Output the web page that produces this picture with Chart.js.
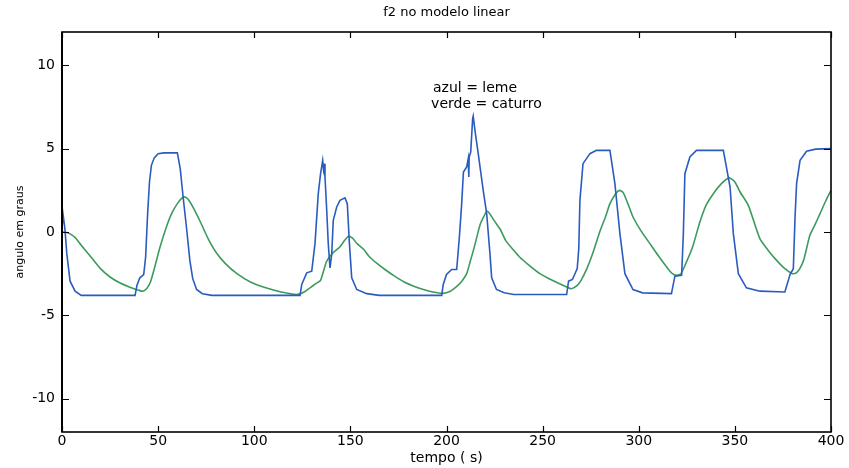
<!DOCTYPE html>
<html>
<head>
<meta charset="utf-8">
<script src="https://cdn.jsdelivr.net/npm/chart.js@4/dist/chart.umd.min.js"></script>
<style>
html,body{margin:0;padding:0;background:#fff;}
#wrap{width:849px;height:468px;position:relative;}
</style>
</head>
<body>
<div id="wrap"><canvas id="c" width="849" height="468"></canvas></div>
<script>
// ---- data ----
const titleText = 'f2 no modelo linear';
const xLabel = 'tempo ( s)';
const yLabel = 'angulo em graus';
const noteLines = ['azul = leme', 'verde = caturro'];
const xTicks = [0, 50, 100, 150, 200, 250, 300, 350, 400];
const yTicks = [-10, -5, 0, 5, 10];

// blue = leme (rudder)
const lemeT = [0, 0.6, 1.5, 2.5, 4.2, 6.8, 10, 38, 39, 40.5, 42.5, 43.5, 44.5, 45.5, 46.5, 48, 50, 53, 60,
  61.5, 63, 65, 66.5, 68, 70, 73, 78, 123.8, 124.7, 127.3, 129.9, 131.6, 133.3, 134.5, 135.6, 136, 136.3,
  136.8, 137.7, 138.5, 139.4, 140.3, 141.1, 142.9, 144.6, 147.2, 148.4, 149.5, 150.7, 153.3, 158.5, 165,
  197.5, 198.3, 200, 202.7, 205.3, 206.7, 207.9, 208.8, 210.5, 211.3, 211.6, 211.8, 212.6, 213.6, 213.9,
  214.8, 216.5, 219.1, 220.9, 222.6, 223.5, 226, 230, 235, 262.5, 263.5, 265.5, 268, 268.8, 269.4, 271,
  274.6, 278, 285, 287.6, 290.2, 292.8, 297, 302, 317, 318.8, 322.3, 323.2, 324, 326.6, 330, 344, 347.5,
  349.2, 351.8, 356, 363, 376, 378.7, 380.4, 381.3, 382.1, 383.9, 387.3, 392, 400];
const lemeY = [0.3, 1.0, 0.2, -1.3, -2.95, -3.55, -3.8, -3.8, -3.2, -2.75, -2.55, -1.5, 1.0, 3.0, 4.0, 4.45, 4.7, 4.75, 4.75,
  3.8, 2.1, 0.0, -1.7, -2.8, -3.45, -3.7, -3.8, -3.8, -3.15, -2.45, -2.35, -0.7, 2.3, 3.5, 4.3, 3.8, 4.1,
  3.3, 1.3, -0.7, -2.15, -1.33, 0.7, 1.5, 1.9, 2.05, 1.7, -0.7, -2.75, -3.45, -3.7, -3.8,
  -3.8, -3.15, -2.55, -2.25, -2.25, -0.3, 1.7, 3.6, 3.9, 4.4, 3.3, 4.5, 4.8, 6.8, 6.95,
  6.1, 4.7, 2.5, 1.1, -1.3, -2.75, -3.45, -3.65, -3.75, -3.75, -2.95, -2.85, -2.2, -1.0, 1.9, 4.1,
  4.7, 4.9, 4.9, 2.9, -0.1, -2.5, -3.45, -3.65, -3.7, -2.65, -2.6, -0.1, 3.5, 4.5, 4.9, 4.9, 2.7,
  -0.1, -2.5, -3.35, -3.55, -3.6, -2.55, -2.2, 0.9, 2.9, 4.3, 4.85, 4.97, 5.0];

// green = caturro (pitch)
const caturroT = [0, 1.5, 4, 7, 10, 14, 20, 25, 30, 35, 40, 42, 44, 46, 48, 51, 54, 57, 60, 62.5, 64, 66, 69,
  72, 76, 80, 85, 91, 98, 106, 114, 122, 126, 129, 132, 134.5, 137.5, 140.5, 144.5, 147, 149, 151, 153.5,
  157, 160, 164, 168, 173, 178, 183, 188, 193, 198, 202, 205.5, 208, 210.5, 212.5, 214, 216, 217.5, 219.5,
  221, 222.5, 225, 228, 231, 235, 238, 243, 248.6, 255, 262.5, 265, 268, 270, 273, 276, 280, 283, 285, 288,
  290, 292, 295, 297, 301, 305.8, 310, 314.5, 317, 319.7, 322, 325, 328, 331.8, 335, 338.8, 343, 347, 350,
  352.7, 357, 363, 368, 371.7, 376, 380, 382, 384, 386, 389, 391.5, 394.3, 397, 400];
const caturroY = [0.0, 0.0, -0.1, -0.35, -0.8, -1.35, -2.2, -2.7, -3.05, -3.3, -3.5, -3.55, -3.4, -3.0, -2.2, -0.9, 0.2, 1.1, 1.7, 2.05, 2.1, 1.9, 1.3,
  0.6, -0.4, -1.2, -1.9, -2.5, -3.0, -3.35, -3.6, -3.75, -3.6, -3.35, -3.1, -2.9, -1.8, -1.3, -0.9, -0.5, -0.25, -0.35, -0.7,
  -1.05, -1.5, -1.9, -2.25, -2.65, -3.0, -3.25, -3.45, -3.6, -3.68, -3.55, -3.25, -2.95, -2.5, -1.7, -1.1, -0.2, 0.45, 0.95,
  1.25, 1.1, 0.65, 0.15, -0.55, -1.1, -1.5, -2.0, -2.5, -2.9, -3.3, -3.4, -3.2, -2.9, -2.2, -1.3, 0.1, 1.0, 1.7, 2.3,
  2.5, 2.35, 1.5, 0.9, 0.1, -0.7, -1.4, -2.1, -2.45, -2.6, -2.5, -1.75, -0.9, 0.6, 1.6, 2.3, 2.9, 3.25, 3.0,
  2.4, 1.6, -0.4, -1.2, -1.7, -2.2, -2.5, -2.45, -2.15, -1.6, -0.2, 0.4, 1.1, 1.8, 2.5];

// ---- chart ----
const FONT = 'DejaVu Sans, Verdana, sans-serif';
const toPts = (t, y) => t.map((v, i) => ({x: v, y: y[i]}));

const framePlugin = {
  id: 'frame',
  afterDatasetsDraw(chart) {
    const {ctx, chartArea: a, scales: {x, y}} = chart;
    ctx.save();
    ctx.strokeStyle = '#000';
    ctx.lineWidth = 1.2;
    ctx.beginPath();
    xTicks.forEach(v => {
      const px = Math.round(x.getPixelForValue(v)) + 0.5;
      ctx.moveTo(px, a.bottom); ctx.lineTo(px, a.bottom - 6);
      ctx.moveTo(px, a.top); ctx.lineTo(px, a.top + 6);
    });
    yTicks.forEach(v => {
      const py = Math.round(y.getPixelForValue(v)) + 0.5;
      ctx.moveTo(a.left, py); ctx.lineTo(a.left + 7, py);
      ctx.moveTo(a.right, py); ctx.lineTo(a.right - 7, py);
    });
    ctx.stroke();
    ctx.lineWidth = 1.6;
    ctx.strokeRect(a.left, a.top, a.right - a.left, a.bottom - a.top);
    ctx.lineWidth = 2;
    ctx.beginPath();
    ctx.moveTo(a.left, a.top); ctx.lineTo(a.left, a.bottom);
    ctx.stroke();
    // annotation text
    ctx.fillStyle = '#000';
    ctx.font = '14px ' + FONT;
    ctx.textBaseline = 'middle';
    ctx.textAlign = 'left';
    ctx.fillText(noteLines[0], x.getPixelForValue(193), y.getPixelForValue(8.6));
    ctx.fillText(noteLines[1], x.getPixelForValue(192), y.getPixelForValue(7.65));
    ctx.restore();
  }
};

new Chart(document.getElementById('c'), {
  type: 'line',
  data: {
    datasets: [
      {label: 'leme', data: toPts(lemeT, lemeY), borderColor: '#2a5cbf', borderWidth: 1.6, pointRadius: 0, tension: 0, fill: false},
      {label: 'caturro', data: toPts(caturroT, caturroY), borderColor: '#3d9a5e', borderWidth: 1.6, pointRadius: 0, tension: 0.2, fill: false}
    ]
  },
  options: {
    responsive: false,
    animation: false,
    devicePixelRatio: 1,
    layout: {padding: {left: 0, right: 18, top: 0, bottom: 0}},
    plugins: {
      legend: {display: false},
      tooltip: {enabled: false},
      title: {display: true, fullSize: false, text: titleText, color: '#000',
        font: {family: FONT, size: 13, weight: 'normal', lineHeight: 1.2}, padding: {top: 5, bottom: 11.4}}
    },
    scales: {
      x: {
        type: 'linear', min: 0, max: 400,
        afterBuildTicks: s => { s.ticks = xTicks.map(v => ({value: v})); },
        afterFit: s => { s.height = 36; },
        grid: {display: false, drawTicks: false},
        border: {display: false},
        ticks: {color: '#000', font: {family: FONT, size: 14}, padding: 1, maxRotation: 0, autoSkip: false},
        title: {display: true, text: xLabel, color: '#000', font: {family: FONT, size: 14, lineHeight: 1.2}, padding: {top: 0, bottom: 1.6}}
      },
      y: {
        type: 'linear', min: -12, max: 12,
        afterBuildTicks: s => { s.ticks = yTicks.map(v => ({value: v})); },
        afterFit: s => { s.width = 62; },
        grid: {display: false, drawTicks: false},
        border: {display: false},
        ticks: {color: '#000', font: {family: FONT, size: 14}, padding: 7},
        title: {display: true, text: yLabel, color: '#000', font: {family: FONT, size: 11, lineHeight: 1.2}, padding: {top: 13.4, bottom: 0}}
      }
    }
  },
  plugins: [framePlugin]
});
</script>
</body>
</html>
